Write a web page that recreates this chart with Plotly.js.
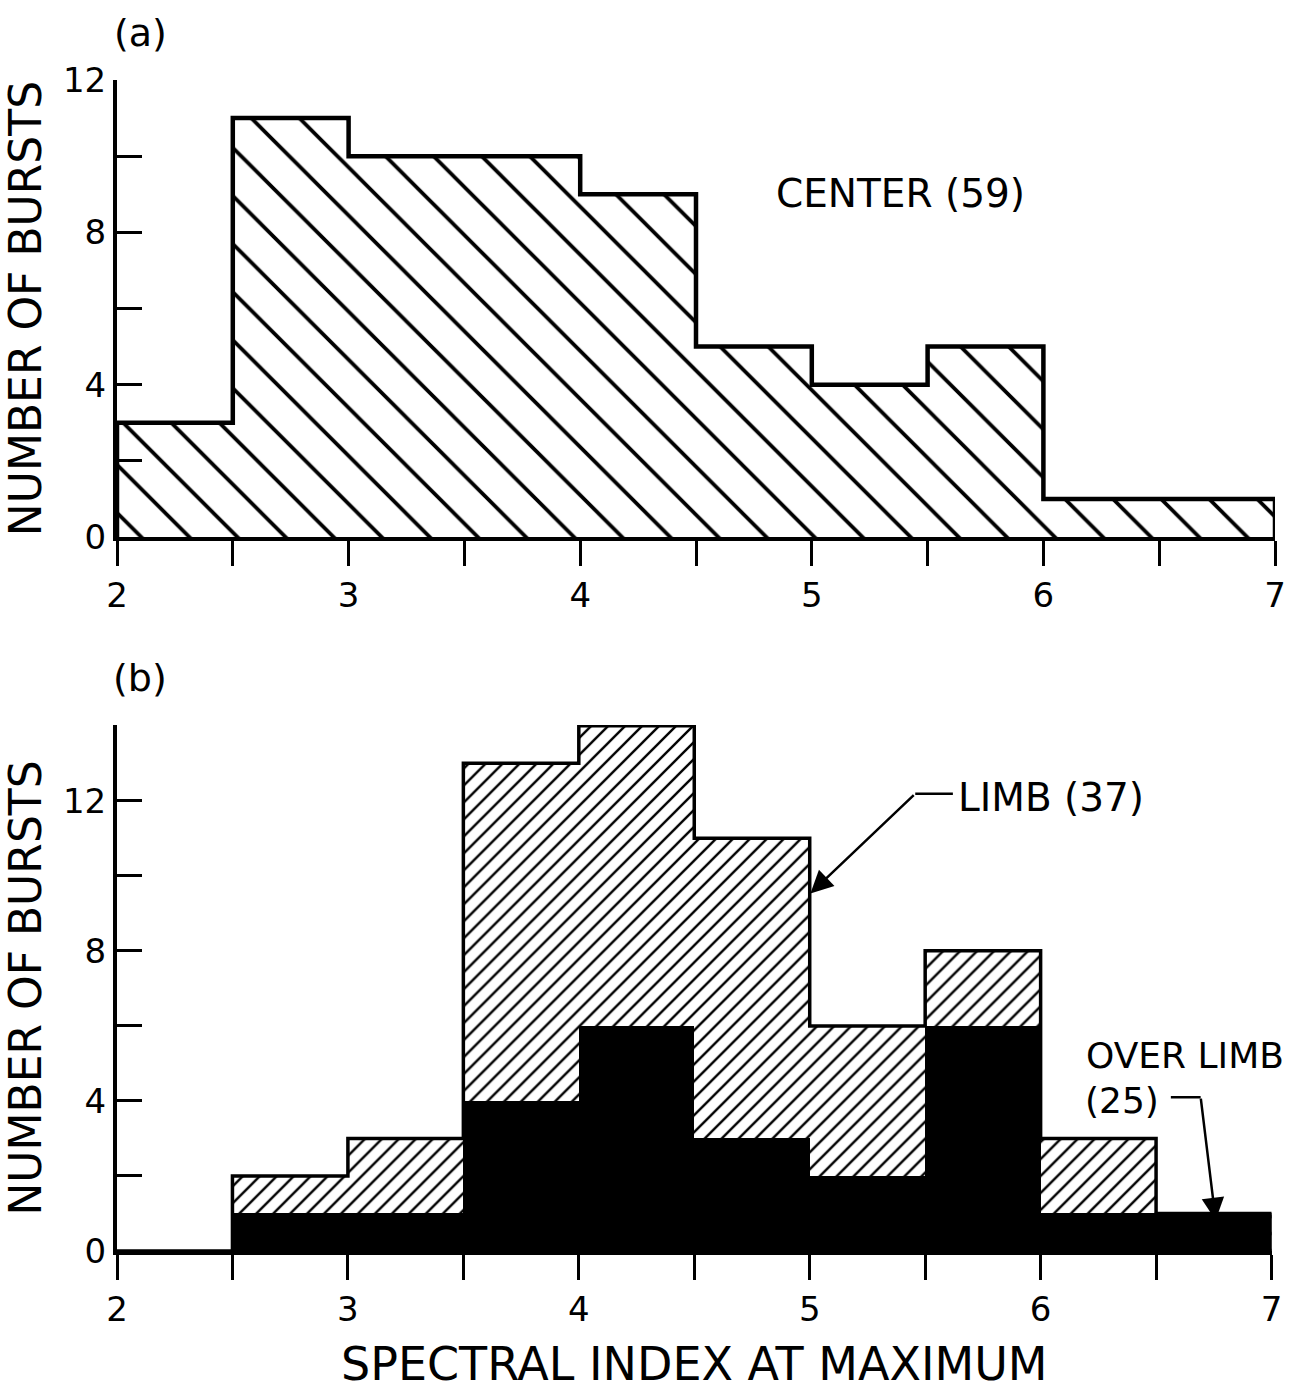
<!DOCTYPE html>
<html>
<head>
<meta charset="utf-8">
<script src="https://cdn.plot.ly/plotly-3.0.1.min.js"></script>
<style>html,body{margin:0;padding:0;background:#fff;}#chart{width:1311px;height:1391px;}</style>
</head>
<body>
<div id="chart"></div>
<script>
// ---- data ----
var binLeft = [2, 2.5, 3, 3.5, 4, 4.5, 5, 5.5, 6, 6.5];
var binWidth = 0.5;
var centerCounts = [3, 11, 10, 10, 9, 5, 4, 5, 1, 1];        // panel (a) CENTER (59)
var limbTop = [0, 2, 3, 13, 14, 11, 6, 8, 3, 1];             // panel (b) top of hatched (LIMB) stack
var overLimbCounts = [0, 1, 1, 4, 6, 3, 2, 6, 1, 1];         // panel (b) black OVER LIMB (25)
var xTickVals = [2, 3, 4, 5, 6, 7];

var FONT = "DejaVu Sans";

function stepOutline(lefts, counts, w) {
  var xs = [lefts[0]], ys = [0];
  for (var i = 0; i < lefts.length; i++) { xs.push(lefts[i]); ys.push(counts[i]); }
  var last = lefts[lefts.length - 1] + w;
  xs.push(last); ys.push(counts[counts.length - 1]);
  xs.push(last); ys.push(0);
  return {x: xs, y: ys};
}

var outA = stepOutline(binLeft, centerCounts, binWidth);
var outB = stepOutline(binLeft, limbTop, binWidth);

var traces = [
  {type: 'bar', x: binLeft, y: centerCounts, width: binWidth, offset: 0, xaxis: 'x', yaxis: 'y',
   marker: {color: 'white', line: {width: 0},
            pattern: {shape: '\\', fgcolor: 'black', bgcolor: 'white', size: 34, solidity: 0.11}},
   hoverinfo: 'skip'},
  {type: 'scatter', mode: 'lines', x: outA.x, y: outA.y, xaxis: 'x', yaxis: 'y', cliponaxis: false,
   line: {color: 'black', width: 4.5, shape: 'hv'}, hoverinfo: 'skip'},
  {type: 'bar', x: binLeft, y: limbTop, width: binWidth, offset: 0, xaxis: 'x2', yaxis: 'y2',
   marker: {color: 'white', line: {width: 0},
            pattern: {shape: '/', fgcolor: 'black', bgcolor: 'white', size: 12, solidity: 0.2}},
   hoverinfo: 'skip'},
  {type: 'bar', x: binLeft, y: overLimbCounts, width: binWidth, offset: 0, xaxis: 'x2', yaxis: 'y2',
   marker: {color: 'black', line: {width: 0}}, hoverinfo: 'skip'},
  {type: 'scatter', mode: 'lines', x: outB.x, y: outB.y, xaxis: 'x2', yaxis: 'y2', cliponaxis: false,
   line: {color: 'black', width: 3.5, shape: 'hv'}, hoverinfo: 'skip'}
];

var xCommon = {
  range: [2, 7], showline: true, linewidth: 4, linecolor: 'black',
  ticks: 'outside', ticklen: 25, tickwidth: 3, tickcolor: 'black',
  tickvals: xTickVals, ticktext: xTickVals.map(String),
  minor: {dtick: 0.5, tick0: 2, ticks: 'outside', ticklen: 25, tickwidth: 3, tickcolor: 'black', showgrid: false},
  showgrid: false, zeroline: false, fixedrange: true,
  tickfont: {family: FONT, size: 34, color: 'black'}
};
var yCommon = {
  showline: true, linewidth: 4, linecolor: 'black',
  ticks: 'inside', ticklen: 25, tickwidth: 3, tickcolor: 'black',
  dtick: 4, tick0: 0,
  minor: {dtick: 2, tick0: 0, ticks: 'inside', ticklen: 25, tickwidth: 3, tickcolor: 'black', showgrid: false},
  showgrid: false, zeroline: false, fixedrange: true,
  tickfont: {family: FONT, size: 34, color: 'black'}
};

var layout = {
  width: 1311, height: 1391,
  margin: {l: 117, r: 36, t: 80, b: 140},
  paper_bgcolor: 'white', plot_bgcolor: 'white',
  showlegend: false, barmode: 'overlay', bargap: 0,
  xaxis: Object.assign({}, xCommon, {domain: [0, 1], anchor: 'y'}),
  yaxis: Object.assign({}, yCommon, {domain: [0.6097, 1], anchor: 'x', range: [0, 12],
    title: {text: 'NUMBER OF BURSTS', font: {family: FONT, size: 44, color: 'black'}, standoff: 16}}),
  xaxis2: Object.assign({}, xCommon, {domain: [0, 0.997], anchor: 'y2',
    title: {text: 'SPECTRAL INDEX AT MAXIMUM', font: {family: FONT, size: 46, color: 'black'}, standoff: 24}}),
  yaxis2: Object.assign({}, yCommon, {domain: [0, 0.4492], anchor: 'x2', range: [0, 14.02],
    title: {text: 'NUMBER OF BURSTS', font: {family: FONT, size: 44, color: 'black'}, standoff: 16}}),
  annotations: [
    {text: '(a)', xref: 'paper', yref: 'paper', x: 0.0199, y: 1.040, xanchor: 'center', yanchor: 'middle',
     showarrow: false, font: {family: FONT, size: 38, color: 'black'}},
    {text: '(b)', xref: 'paper', yref: 'paper', x: 0.0199, y: 0.4893, xanchor: 'center', yanchor: 'middle',
     showarrow: false, font: {family: FONT, size: 38, color: 'black'}},
    {text: 'CENTER (59)', xref: 'x', yref: 'y', x: 5.381, y: 9.03, showarrow: false,
     font: {family: FONT, size: 39, color: 'black'}},
    {text: 'LIMB (37)', xref: 'x2', yref: 'y2', x: 5.634, y: 12.1, xanchor: 'left', showarrow: false,
     font: {family: FONT, size: 39, color: 'black'}},
    {text: '', xref: 'x2', yref: 'y2', x: 5.003, y: 9.53, axref: 'x2', ayref: 'y2', ax: 5.457, ay: 12.19,
     showarrow: true, arrowhead: 2, arrowsize: 1.8, arrowwidth: 2.5, arrowcolor: 'black', standoff: 0},
    {text: 'OVER LIMB', xref: 'x2', yref: 'y2', x: 6.19, y: 5.2, xanchor: 'left', showarrow: false,
     font: {family: FONT, size: 36, color: 'black'}},
    {text: '(25)', xref: 'x2', yref: 'y2', x: 6.184, y: 4.02, xanchor: 'left', showarrow: false,
     font: {family: FONT, size: 36, color: 'black'}},
    {text: '', xref: 'x2', yref: 'y2', x: 6.758, y: 0.82, axref: 'x2', ayref: 'y2', ax: 6.693, ay: 4.10,
     showarrow: true, arrowhead: 2, arrowsize: 1.8, arrowwidth: 2.5, arrowcolor: 'black', standoff: 0}
  ],
  shapes: [
    {type: 'line', xref: 'x2', yref: 'y2', x0: 5.457, y0: 12.19, x1: 5.62, y1: 12.19,
     line: {color: 'black', width: 2.5}},
    {type: 'line', xref: 'x2', yref: 'y2', x0: 6.564, y0: 4.10, x1: 6.693, y1: 4.10,
     line: {color: 'black', width: 2.5}}
  ]
};

Plotly.newPlot('chart', traces, layout, {staticPlot: true, displayModeBar: false});
</script>
</body>
</html>
